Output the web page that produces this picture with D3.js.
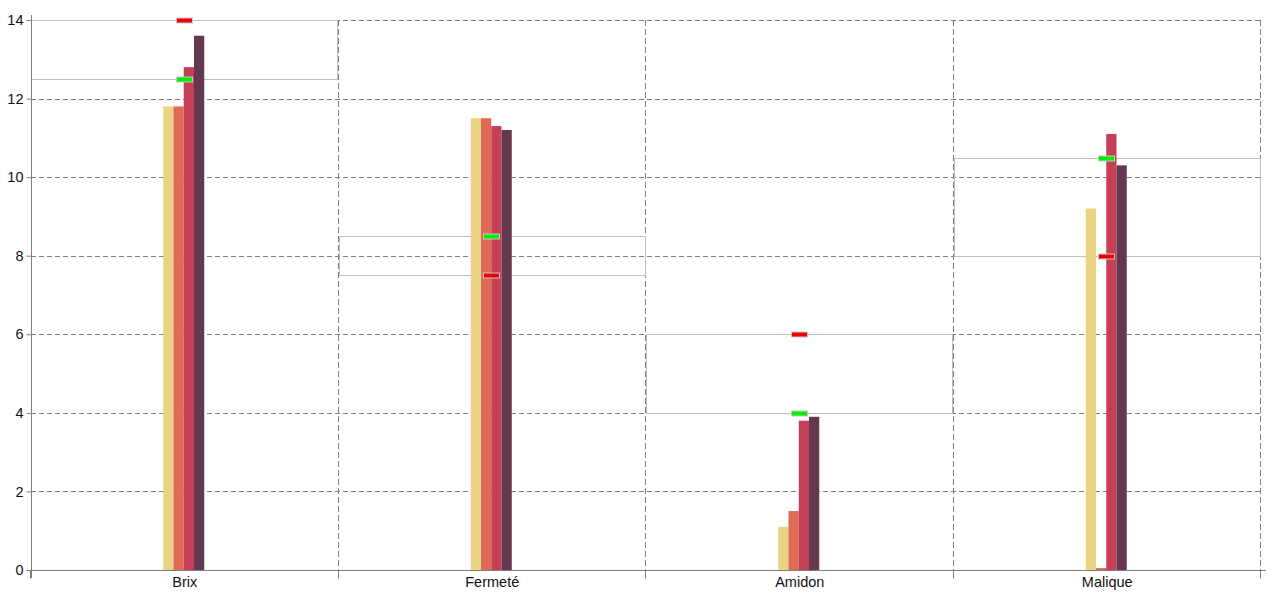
<!DOCTYPE html>
<html>
<head>
<meta charset="utf-8">
<script src="https://cdn.jsdelivr.net/npm/d3@7"></script>
<style>
  body { margin: 0; background: #fff; }
  text { font-family: "Liberation Sans", Arial, sans-serif; }
</style>
</head>
<body>
<svg id="chart" width="1280" height="600"></svg>
<script>
(function () {
  'use strict';

  // data
  var categories = ['Brix', 'Fermeté', 'Amidon', 'Malique'];
  var series = ['s1', 's2', 's3', 's4'];
  var seriesColors = ['#ecd383', '#df6b56', '#c53f57', '#64384e'];
  var values1 = [11.8, 11.5, 1.1, 9.2];
  var values2 = [11.8, 11.5, 1.5, 0.05];
  var values3 = [12.8, 11.3, 3.8, 11.1];
  var values4 = [13.6, 11.2, 3.9, 10.3];
  var targetLow = [12.5, 7.5, 4, 8];     // grey box bottom
  var targetHigh = [14, 8.5, 6, 10.5];   // grey box top
  var greenMark = [12.5, 8.5, 4, 10.5];
  var redMark = [14, 7.5, 6, 8];
  var yTicks = [0, 2, 4, 6, 8, 10, 12, 14];

  var allValues = [values1, values2, values3, values4];

  var svg = d3.select('#chart'),
      margin = {top: 20, right: 19, bottom: 30, left: 31},
      width = +svg.attr('width') - margin.left - margin.right,
      height = +svg.attr('height') - margin.top - margin.bottom,
      g = svg.append('g').attr('transform', 'translate(' + margin.left + ',' + margin.top + ')');

  var xScale = d3.scaleBand()
      .domain(categories)
      .range([0, width])
      .padding(0);

  var xInner = d3.scaleBand()
      .domain(series)
      .range([-21.5, 19.5])
      .padding(0);

  var yScale = d3.scaleLinear()
      .domain([0, 14])
      .range([height, 0]);

  var gridColor = '#808080';

  // horizontal dashed grid
  g.append('g')
      .attr('class', 'grid y')
      .selectAll('line')
      .data(yTicks.slice(1))
      .enter()
      .append('line')
      .attr('x1', 0)
      .attr('x2', width)
      .attr('y1', function (d) { return Math.round(yScale(d)) + 0.5; })
      .attr('y2', function (d) { return Math.round(yScale(d)) + 0.5; })
      .attr('stroke', gridColor)
      .attr('stroke-dasharray', '5,3');

  // vertical dashed grid at band edges
  var edges = categories.map(function (c) { return xScale(c) + xScale.bandwidth(); });
  g.append('g')
      .attr('class', 'grid x')
      .selectAll('line')
      .data(edges)
      .enter()
      .append('line')
      .attr('x1', function (d) { return Math.round(d) - 0.5; })
      .attr('x2', function (d) { return Math.round(d) - 0.5; })
      .attr('y1', 0)
      .attr('y2', height)
      .attr('stroke', gridColor)
      .attr('stroke-dasharray', '6,3');

  // target range boxes
  g.append('g')
      .attr('class', 'targets')
      .selectAll('rect')
      .data(categories)
      .enter()
      .append('rect')
      .attr('x', function (d) { return Math.round(xScale(d)) + 0.5; })
      .attr('width', xScale.bandwidth() - 1.5)
      .attr('y', function (d, i) { return Math.round(yScale(targetHigh[i])) + 0.5; })
      .attr('height', function (d, i) { return Math.round(yScale(targetLow[i])) - Math.round(yScale(targetHigh[i])); })
      .attr('fill', 'none')
      .attr('stroke', '#c0c0c0');

  // bars
  var bars = g.append('g').attr('class', 'bars');
  series.forEach(function (s, si) {
    bars.append('g')
        .attr('fill', seriesColors[si])
        .selectAll('rect')
        .data(categories)
        .enter()
        .append('rect')
        .attr('x', function (d) { return xScale(d) + xScale.bandwidth() / 2 + xInner(s); })
        .attr('width', xInner.bandwidth())
        .attr('y', function (d, i) { return yScale(allValues[si][i]); })
        .attr('height', function (d, i) { return height - yScale(allValues[si][i]); });
  });

  // min / max markers
  function drawMarks(vals, color) {
    g.append('g')
        .selectAll('rect')
        .data(categories)
        .enter()
        .append('rect')
        .attr('x', function (d) { return Math.round(xScale(d) + xScale.bandwidth() / 2) - 8.5; })
        .attr('y', function (d, i) { return Math.round(yScale(vals[i])) - 2; })
        .attr('width', 16)
        .attr('height', 5)
        .attr('fill', color)
        .attr('stroke', '#c8c8c8');
  }
  drawMarks(greenMark, '#00ee00');
  drawMarks(redMark, '#ee0000');

  // y axis
  var yAxis = d3.axisLeft(yScale)
      .tickValues(yTicks)
      .tickSize(5)
      .tickPadding(3);

  var yG = g.append('g')
      .attr('class', 'y axis')
      .attr('transform', 'translate(0.5,0)')
      .call(yAxis);
  yG.select('.domain').attr('d', 'M0,-5V' + (height + 8));

  // x axis
  var xAxis = d3.axisBottom(xScale)
      .tickSize(0)
      .tickPadding(6);

  var xG = g.append('g')
      .attr('class', 'x axis')
      .attr('transform', 'translate(0,' + (height + 0.5) + ')')
      .call(xAxis);
  xG.select('.domain').attr('d', 'M0,0H' + (width + 5));

  xG.append('g')
      .selectAll('line')
      .data([0].concat(edges))
      .enter()
      .append('line')
      .attr('x1', function (d) { return Math.round(d) - 0.5; })
      .attr('x2', function (d) { return Math.round(d) - 0.5; })
      .attr('y1', 0)
      .attr('y2', 8)
      .attr('stroke', gridColor);

  svg.selectAll('.axis .domain').attr('stroke', gridColor);
  svg.selectAll('.axis .tick line').attr('stroke', gridColor);
  svg.selectAll('.axis text')
      .attr('fill', '#111')
      .style('font-size', '14.5px');
})();
</script>
</body>
</html>
